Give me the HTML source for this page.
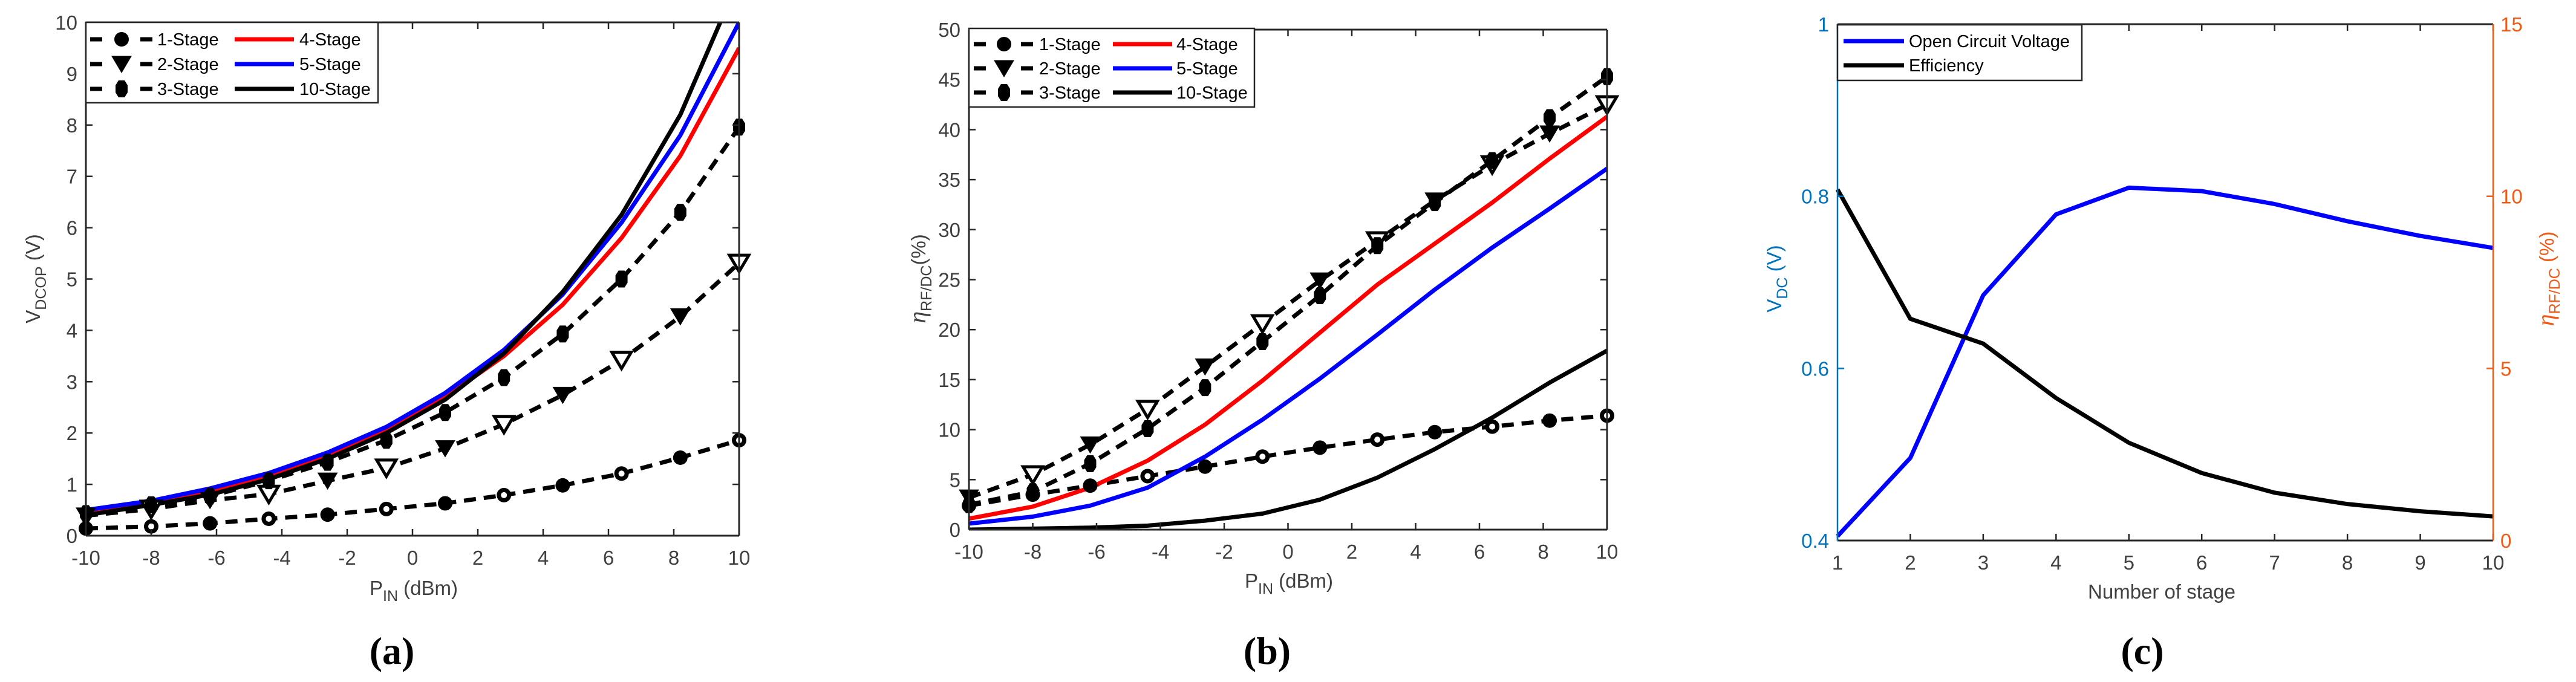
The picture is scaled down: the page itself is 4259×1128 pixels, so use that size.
<!DOCTYPE html>
<html><head><meta charset="utf-8">
<style>
html,body{margin:0;padding:0;background:#fff;}
svg{display:block;font-family:"Liberation Sans",Arial,sans-serif;}
</style></head>
<body>
<svg id="fig" width="4259" height="1128" viewBox="0 0 4259 1128" xmlns="http://www.w3.org/2000/svg"></svg>
<script>
// ---------- data ----------
const pinA = [-10,-8,-6.2,-4.4,-2.6,-0.8,1,2.8,4.6,6.4,8.2,10];
const vStage1 = [0.14,0.18,0.24,0.33,0.41,0.52,0.63,0.79,0.98,1.21,1.52,1.86];
const vStage2 = [0.39,0.52,0.69,0.81,1.07,1.32,1.70,2.17,2.74,3.42,4.27,5.31];
const vStage3 = [0.43,0.60,0.77,1.07,1.43,1.86,2.40,3.08,3.93,5.00,6.30,7.96];
const vStage4 = [0.47,0.65,0.88,1.15,1.55,2.05,2.70,3.50,4.50,5.80,7.40,9.50];
const vStage5 = [0.50,0.68,0.92,1.22,1.62,2.12,2.78,3.62,4.70,6.10,7.80,10.0];
const vStage10 = [0.40,0.60,0.80,1.10,1.50,2.00,2.65,3.55,4.75,6.25,8.20,10.85];
const eStage1 = [2.4,3.5,4.4,5.35,6.3,7.3,8.2,9.0,9.75,10.3,10.9,11.4];
const eStage2 = [3.2,5.5,8.5,12.05,16.3,20.6,24.9,28.9,32.9,36.5,39.6,42.5];
const eStage3 = [2.5,3.8,6.6,10.1,14.2,18.8,23.4,28.4,32.7,36.9,41.2,45.3];
const eStage4 = [1.1,2.3,4.2,6.9,10.5,14.9,19.7,24.5,28.6,32.7,37.1,41.3];
const eStage5 = [0.6,1.3,2.4,4.2,7.3,11.0,15.1,19.5,24.0,28.2,32.1,36.1];
const eStage10 = [0.0,0.1,0.2,0.4,0.9,1.6,3.0,5.2,8.05,11.2,14.7,17.9];
const stagesC = [1,2,3,4,5,6,7,8,9,10];
const vocC = [0.405,0.496,0.685,0.779,0.810,0.806,0.791,0.771,0.754,0.740];
const effC = [10.2,6.44,5.72,4.14,2.84,1.96,1.39,1.06,0.85,0.70];
const xTicksP = [-10,-8,-6,-4,-2,0,2,4,6,8,10];
const yTicksA = [0,1,2,3,4,5,6,7,8,9,10];
const yTicksB = [0,5,10,15,20,25,30,35,40,45,50];
const xTicksC = [1,2,3,4,5,6,7,8,9,10];
const yTicksCL = [0.4,0.6,0.8,1];
const yTicksCR = [0,5,10,15];

const NS="http://www.w3.org/2000/svg";
const fig=document.getElementById('fig');
function mk(tag,attrs,parent){const e=document.createElementNS(NS,tag);for(const k in attrs)e.setAttribute(k,attrs[k]);(parent||fig).appendChild(e);return e;}
function scale(d0,d1,r0,r1){return v=>r0+(v-d0)/(d1-d0)*(r1-r0);}
const AX='#262626', TK='#404040';

function axesBox(g,L,R,T,B,xs,ys,xt,yt,leftCol,rightCol,yRight,ytR,ysR,fmtL,fmtR){
  // ticks
  xt.forEach(v=>{const x=xs(v);
    const t=mk('line',{x1:x,x2:x,y1:B,y2:B-11,stroke:AX,'stroke-width':2.5},g);
    
    mk('line',{x1:x,x2:x,y1:T,y2:T+11,stroke:AX,'stroke-width':2.5},g);
    const l=mk('text',{x:x,y:B+48,'font-size':33,fill:TK,'text-anchor':'middle'},g);l.textContent=v;
    
  });
  yt.forEach(v=>{const y=ys(v);
    mk('line',{x1:L,x2:L+11,y1:y,y2:y,stroke:leftCol,'stroke-width':2.5},g);
    if(!yRight) mk('line',{x1:R,x2:R-11,y1:y,y2:y,stroke:AX,'stroke-width':2.5},g);
    const l=mk('text',{x:L-14,y:y+12,'font-size':33,fill:leftCol==AX?TK:leftCol,'text-anchor':'end'},g);l.textContent=fmtL?fmtL(v):v;
    
  });
  if(yRight){ytR.forEach(v=>{const y=ysR(v);
    mk('line',{x1:R,x2:R-11,y1:y,y2:y,stroke:rightCol,'stroke-width':2.5},g);
    const l=mk('text',{x:R+12,y:y+12,'font-size':33,fill:rightCol,'text-anchor':'start'},g);l.textContent=v;
    
  });}
  mk('line',{x1:L,x2:R,y1:T,y2:T,stroke:AX,'stroke-width':3},g);
  mk('line',{x1:L,x2:R,y1:B,y2:B,stroke:AX,'stroke-width':3},g);
  mk('line',{x1:L,x2:L,y1:T,y2:B,stroke:leftCol,'stroke-width':yRight?2.5:3},g);
  mk('line',{x1:R,x2:R,y1:T,y2:B,stroke:yRight?rightCol:AX,'stroke-width':yRight?2.5:3},g);
}
function polyl(g,xs,ys,X,Y,col,dash,name){
  const p=mk('polyline',{points:X.map((v,i)=>xs(v)+','+ys(Y[i])).join(' '),fill:'none',stroke:col,'stroke-width':7,'stroke-linejoin':'round'},g);
  if(dash)p.setAttribute('stroke-dasharray','20 13');
  
}
function marker(g,type,x,y,open){
  let e;
  if(type==='o'){e=mk('circle',{cx:x,cy:y,r:12,fill:'#000'},g);if(open)mk('circle',{cx:x,cy:y,r:5,fill:'#fff'},g);}
  else if(type==='v'){e=mk('polygon',{points:`${x-16},${y-13} ${x+16},${y-13} ${x},${y+14}`,fill:open?'#fff':'#000',stroke:'#000','stroke-width':open?5:1},g);}
  else {e=mk('polygon',{points:`${x-5},${y-14} ${x+5},${y-14} ${x+10},${y-6} ${x+10},${y+6} ${x+5},${y+14} ${x-5},${y+14} ${x-10},${y+6} ${x-10},${y-6}`,fill:'#000'},g);}
  
}
function markers(g,xs,ys,X,Y,type){X.forEach((v,i)=>marker(g,type,xs(v),ys(Y[i]),i%2===1));}

function legend6(g,x0,y0,x1,y1,rows,c1line,c1mark,c1text,c2line0,c2line1,c2text){
  const box=mk('rect',{x:x0,y:y0,width:x1-x0,height:y1-y0,fill:'#fff',stroke:AX,'stroke-width':2.5},g);
  
  const items=[['1-Stage','o'],['2-Stage','v'],['3-Stage','d']];
  const cols=['#ff0000','#0000ff','#000000'], names2=['4-Stage','5-Stage','10-Stage'];
  rows.forEach((ry,i)=>{
    mk('line',{x1:c1line[0],x2:c1line[0]+20,y1:ry,y2:ry,stroke:'#000','stroke-width':7},g);
    mk('line',{x1:c1line[1]-20,x2:c1line[1],y1:ry,y2:ry,stroke:'#000','stroke-width':7},g);
    marker(g,items[i][1],c1mark,ry,false);
    const t=mk('text',{x:c1text,y:ry+10,'font-size':29,fill:'#000'},g);t.textContent=items[i][0];
    
    mk('line',{x1:c2line0,x2:c2line1,y1:ry,y2:ry,stroke:cols[i],'stroke-width':7},g);
    const t2=mk('text',{x:c2text,y:ry+10,'font-size':29,fill:'#000'},g);t2.textContent=names2[i];
    
  });
}
function clip(id,L,T,R,B){const cp=mk('clipPath',{id:id});mk('rect',{x:L,y:T,width:R-L,height:B-T},cp);}
function htext(parent,html,attrs){const t=mk('text',attrs,parent);t.innerHTML=html;return t;}

// ---------- panel a ----------
{const L=142,R=1222,T=37,B=886;const g=mk('g',{});
 const xs=scale(-10,10,L,R),ys=scale(0,10,B,T);
 clip('ca',L,T,R,B);
 const d=mk('g',{'clip-path':'url(#ca)'},g);
 polyl(d,xs,ys,pinA,vStage1,'#000',true,'series-1-stage');
 polyl(d,xs,ys,pinA,vStage2,'#000',true,'series-2-stage');
 polyl(d,xs,ys,pinA,vStage3,'#000',true,'series-3-stage');
 polyl(d,xs,ys,pinA,vStage4,'#ff0000',false,'series-4-stage');
 polyl(d,xs,ys,pinA,vStage5,'#0000ff',false,'series-5-stage');
 polyl(d,xs,ys,pinA,vStage10,'#000',false,'series-10-stage');
 markers(g,xs,ys,pinA,vStage1,'o');markers(g,xs,ys,pinA,vStage2,'v');markers(g,xs,ys,pinA,vStage3,'d');
 axesBox(g,L,R,T,B,xs,ys,xTicksP,yTicksA,AX);
 legend6(g,142,37,625,170,[65,106,147],[149,252],201,260,388,486,495);
 const xt=htext(g,'P<tspan font-size="25" dy="10">IN</tspan><tspan dy="-10"> (dBm)</tspan>',{x:684,y:984,'font-size':33,fill:TK,'text-anchor':'middle'});
 
 const yt=htext(g,'V<tspan font-size="25" dy="10">DCOP</tspan><tspan dy="-10"> (V)</tspan>',{x:0,y:0,'font-size':33,fill:TK,'text-anchor':'middle',transform:'translate(66,461) rotate(-90)'});
 
 const pl=mk('text',{x:648,y:1098,'font-size':64,'font-family':'Liberation Serif, serif','font-weight':'bold','text-anchor':'middle',fill:'#000'},g);pl.textContent='(a)';
 
}
// ---------- panel b ----------
{const L=1602,R=2657,T=49,B=876;const g=mk('g',{});
 const xs=scale(-10,10,L,R),ys=scale(0,50,B,T);
 clip('cb',L,T,R,B);
 const d=mk('g',{'clip-path':'url(#cb)'},g);
 polyl(d,xs,ys,pinA,eStage1,'#000',true,'series-1-stage');
 polyl(d,xs,ys,pinA,eStage2,'#000',true,'series-2-stage');
 polyl(d,xs,ys,pinA,eStage3,'#000',true,'series-3-stage');
 polyl(d,xs,ys,pinA,eStage4,'#ff0000',false,'series-4-stage');
 polyl(d,xs,ys,pinA,eStage5,'#0000ff',false,'series-5-stage');
 polyl(d,xs,ys,pinA,eStage10,'#000',false,'series-10-stage');
 markers(g,xs,ys,pinA,eStage1,'o');markers(g,xs,ys,pinA,eStage2,'v');markers(g,xs,ys,pinA,eStage3,'d');
 axesBox(g,L,R,T,B,xs,ys,xTicksP,yTicksB,AX);
 legend6(g,1602,47,2074,177,[73,113,153],[1610,1708],1660,1718,1840,1938,1945);
 const xt=htext(g,'P<tspan font-size="25" dy="10">IN</tspan><tspan dy="-10"> (dBm)</tspan>',{x:2131,y:972,'font-size':33,fill:TK,'text-anchor':'middle'});
 
 const yt=htext(g,'<tspan font-family="Liberation Serif, serif" font-style="italic" font-size="40">η</tspan><tspan font-size="25" dy="10">RF/DC</tspan><tspan dy="-10">(%)</tspan>',{x:0,y:0,'font-size':33,fill:TK,'text-anchor':'middle',transform:'translate(1530,461) rotate(-90)'});
 
 const pl=mk('text',{x:2095,y:1098,'font-size':64,'font-family':'Liberation Serif, serif','font-weight':'bold','text-anchor':'middle',fill:'#000'},g);pl.textContent='(b)';
 
}
// ---------- panel c ----------
{const L=3038,R=4122,T=40,B=894;const g=mk('g',{});
 const BL='#0072BD',OR='#F05A14';
 const xs=scale(1,10,L,R),ys=scale(0.4,1,B,T),ysR=scale(0,15,B,T);
 polyl(g,xs,ys,stagesC,vocC,'#0000ff',false,'series-open-circuit-voltage');
 polyl(g,xs,ysR,stagesC,effC,'#000',false,'series-efficiency');
 axesBox(g,L,R,T,B,xs,ys,xTicksC,yTicksCL,BL,OR,true,yTicksCR,ysR,v=>v===1?'1':String(v));
 const box=mk('rect',{x:3038,y:41,width:404,height:92,fill:'#fff',stroke:AX,'stroke-width':2.5},g);
 
 mk('line',{x1:3048,x2:3148,y1:68,y2:68,stroke:'#0000ff','stroke-width':7},g);
 mk('line',{x1:3048,x2:3148,y1:108,y2:108,stroke:'#000','stroke-width':7},g);
 const l1=mk('text',{x:3156,y:78,'font-size':29,fill:'#000'},g);l1.textContent='Open Circuit Voltage';
 
 const l2=mk('text',{x:3156,y:118,'font-size':29,fill:'#000'},g);l2.textContent='Efficiency';
 
 const xt=mk('text',{x:3574,y:990,'font-size':33,fill:TK,'text-anchor':'middle'},g);xt.textContent='Number of stage';
 
 const yt=htext(g,'V<tspan font-size="25" dy="10">DC</tspan><tspan dy="-10"> (V)</tspan>',{x:0,y:0,'font-size':33,fill:BL,'text-anchor':'middle',transform:'translate(2945,461) rotate(-90)'});
 
 const yr=htext(g,'<tspan font-family="Liberation Serif, serif" font-style="italic" font-size="40">η</tspan><tspan font-size="25" dy="10">RF/DC</tspan><tspan dy="-10"> (%)</tspan>',{x:0,y:0,'font-size':33,fill:OR,'text-anchor':'middle',transform:'translate(4222,461) rotate(-90)'});
 
 const pl=mk('text',{x:3542,y:1098,'font-size':64,'font-family':'Liberation Serif, serif','font-weight':'bold','text-anchor':'middle',fill:'#000'},g);pl.textContent='(c)';
 
}
</script>
</body></html>
